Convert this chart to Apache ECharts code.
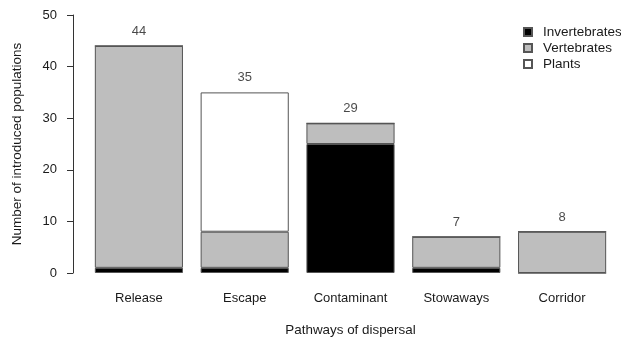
<!DOCTYPE html>
<html>
<head>
<meta charset="utf-8">
<script src="https://cdn.jsdelivr.net/npm/echarts@6/dist/echarts.min.js"></script>
<style>
  html, body { margin: 0; padding: 0; background: #fff; }
  #chart { width: 621px; height: 337px; }
</style>
</head>
<body>
<div id="chart"></div>
<script>
// Introduced populations by pathway of dispersal, split by group
const pathways = ['Release', 'Escape', 'Contaminant', 'Stowaways', 'Corridor'];
const invertebrates = [1, 1, 25, 1, 0];
const vertebrates = [43, 7, 4, 6, 8];
const plants = [0, 27, 0, 0, 0];
const yTicks = { min: 0, max: 50, interval: 10 };

const totals = pathways.map((_, i) => invertebrates[i] + vertebrates[i] + plants[i]);

const font = 'Liberation Sans, Arial, Helvetica, sans-serif';
const ink = '#1a1a1a';
const edge = '#555555';

function stackSeries(name, data, color) {
  return {
    name: name,
    type: 'bar',
    stack: 'pop',
    data: data,
    barCategoryGap: '16.7%',
    itemStyle: { color: color, borderColor: edge, borderWidth: 1 },
    emphasis: { disabled: true },
    silent: true
  };
}

const chart = echarts.init(document.getElementById('chart'), null, { renderer: 'canvas' });
chart.setOption({
  animation: false,
  textStyle: { fontFamily: font, color: ink },
  grid: { left: 86, right: 6, top: 15, bottom: 64, containLabel: false, outerBoundsMode: 'none' },
  legend: {
    data: ['Invertebrates', 'Vertebrates', 'Plants'],
    orient: 'vertical',
    left: 518,
    top: 19,
    icon: 'rect',
    itemWidth: 8,
    itemHeight: 8,
    itemGap: 0,
    selectedMode: false,
    textStyle: { fontFamily: font, fontSize: 13.5, lineHeight: 16, color: ink, padding: [0, 0, 0, 6] }
  },
  xAxis: {
    type: 'category',
    data: pathways,
    axisLine: { show: false },
    axisTick: { show: false },
    axisLabel: { fontFamily: font, fontSize: 13, color: ink, margin: 19 },
    name: 'Pathways of dispersal',
    nameLocation: 'middle',
    nameGap: 51,
    nameTextStyle: { fontFamily: font, fontSize: 13.4, color: ink }
  },
  yAxis: {
    type: 'value',
    min: yTicks.min,
    max: yTicks.max,
    interval: yTicks.interval,
    offset: 13,
    axisLine: { show: true, lineStyle: { color: '#333', width: 1 } },
    axisTick: { show: true, length: 6, lineStyle: { color: '#333', width: 1 } },
    axisLabel: { fontFamily: font, fontSize: 13, color: ink, margin: 16, padding: [4, 0, 0, 0] },
    splitLine: { show: false },
    name: 'Number of introduced populations',
    nameLocation: 'middle',
    nameGap: 49,
    nameTextStyle: { fontFamily: font, fontSize: 13.5, color: ink }
  },
  series: [
    stackSeries('Invertebrates', invertebrates, '#000000'),
    stackSeries('Vertebrates', vertebrates, '#bebebe'),
    stackSeries('Plants', plants, '#ffffff'),
    {
      name: 'Total',
      type: 'scatter',
      data: totals,
      symbolSize: 0,
      silent: true,
      label: {
        show: true,
        position: 'top',
        distance: 8,
        fontFamily: font,
        fontSize: 13,
        color: ink,
        formatter: p => String(p.value)
      }
    }
  ]
});
</script>
</body>
</html>
